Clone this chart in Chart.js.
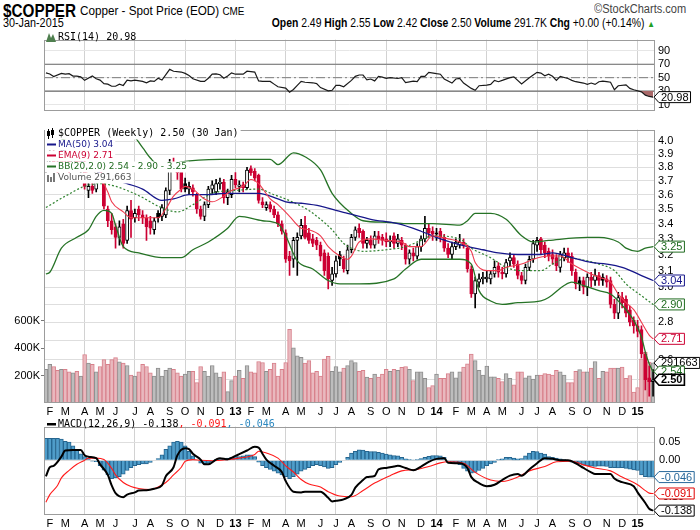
<!DOCTYPE html>
<html>
<head>
<meta charset="utf-8">
<title>$COPPER weekly</title>
<script src="https://cdn.jsdelivr.net/npm/chart.js@4.4.1/dist/chart.umd.min.js"></script>
<style>
  body { margin: 0; background: #fff; }
  #page { position: relative; width: 700px; height: 530px; overflow: hidden; color: #000;
          font-family: "Liberation Sans Narrow", "Liberation Sans", Arial, sans-serif; }
  .abs { position: absolute; white-space: nowrap; line-height: 1; }
  .left { transform-origin: left center; }
  .right { transform-origin: right center; }
  canvas { position: absolute; left: 0; }
</style>
</head>
<body>
<div id="page">
  <div class="abs left" style="left:3px;top:2px;font-size:18px;font-weight:bold;transform:scaleX(0.85);">$COPPER</div>
  <div class="abs left" style="left:80px;top:4px;font-size:13px;transform:scaleX(0.9);">Copper - Spot Price (EOD) <span style="font-size:11px">CME</span></div>
  <div class="abs right" style="right:14px;top:3px;font-size:12px;color:#444;transform:scaleX(0.92);">&copy;StockCharts.com</div>
  <div class="abs left" style="left:3px;top:17px;font-size:12px;transform:scaleX(0.9);">30-Jan-2015</div>
  <div class="abs right" style="right:45px;top:17px;font-size:12px;transform:scaleX(0.865);"><b>Open</b> 2.49 <b>High</b> 2.55 <b>Low</b> 2.42 <b>Close</b> 2.50 <b>Volume</b> 291.7K <b>Chg</b> +0.00 (+0.14%) <span style="color:#22a022;font-size:9px">&#9650;</span></div>
  <canvas id="rsiCanvas" width="700" height="90" style="top:30px"></canvas>
  <canvas id="priceCanvas" width="700" height="298" style="top:120px"></canvas>
  <canvas id="macdCanvas" width="700" height="114" style="top:416px"></canvas>
</div>
<script>
// weekly bars, week 0 = 27-Jan-2012 ... week 157 = 30-Jan-2015
const monthTicks = [1,5,10,14,18,23,27,32,36,40,45,49,53,57,62,66,71,75,79,84,88,92,97,101,106,110,114,118,123,127,131,136,140,145,149,153];
const monthLabels = ['F','M','A','M','J','J','A','S','O','N','D','13','F','M','A','M','J','J','A','S','O','N','D','14','F','M','A','M','J','J','A','S','O','N','D','15'];
const quarterTicks = [10,23,36,49,62,75,88,101,114,127,140,153];
const yearTicks = [49,101,153];

const opens = [3.80,3.86,3.89,3.84,3.81,3.90,3.87,3.82,3.88,3.83,
  3.84,3.63,3.66,3.64,3.78,3.73,3.50,3.42,3.38,3.31,
  3.40,3.29,3.49,3.44,3.50,3.46,3.44,3.42,3.36,3.47,
  3.45,3.46,3.63,3.84,3.80,3.77,3.68,3.64,3.65,3.60,
  3.50,3.45,3.53,3.64,3.62,3.68,3.69,3.58,3.60,3.71,
  3.66,3.67,3.65,3.79,3.77,3.74,3.55,3.51,3.53,3.50,
  3.46,3.40,3.34,3.19,3.17,3.29,3.32,3.39,3.34,3.30,
  3.29,3.26,3.21,3.19,3.04,3.08,3.20,3.17,3.10,3.23,
  3.31,3.37,3.35,3.27,3.29,3.26,3.32,3.31,3.30,3.28,
  3.32,3.27,3.29,3.26,3.17,3.21,3.19,3.25,3.30,3.37,
  3.35,3.34,3.35,3.31,3.24,3.20,3.25,3.26,3.28,3.24,
  3.11,2.96,3.03,3.05,3.05,3.05,3.08,3.13,3.09,3.08,
  3.16,3.18,3.14,3.07,3.04,3.12,3.17,3.26,3.30,3.26,
  3.22,3.20,3.18,3.12,3.18,3.21,3.19,3.09,3.04,3.04,
  3.00,3.06,3.04,3.07,3.06,3.05,3.04,2.90,2.85,2.94,
  2.93,2.87,2.81,2.78,2.76,2.63,2.51,2.49];
const highs = [3.90,3.93,3.95,3.88,3.94,3.97,3.90,3.91,3.90,3.88,
  3.86,3.69,3.69,3.80,3.82,3.74,3.52,3.47,3.40,3.42,
  3.43,3.52,3.56,3.50,3.52,3.49,3.46,3.45,3.44,3.49,
  3.53,3.65,3.86,3.87,3.83,3.78,3.72,3.69,3.67,3.61,
  3.52,3.55,3.66,3.70,3.71,3.72,3.71,3.64,3.74,3.76,
  3.70,3.69,3.80,3.81,3.79,3.75,3.58,3.55,3.55,3.52,
  3.48,3.42,3.36,3.22,3.31,3.34,3.43,3.45,3.37,3.33,
  3.31,3.28,3.23,3.21,3.12,3.19,3.22,3.19,3.26,3.33,
  3.38,3.40,3.36,3.31,3.32,3.35,3.35,3.33,3.34,3.32,
  3.34,3.33,3.31,3.27,3.23,3.24,3.27,3.32,3.45,3.40,
  3.38,3.37,3.37,3.33,3.27,3.28,3.30,3.33,3.30,3.26,
  3.13,3.06,3.08,3.09,3.10,3.10,3.16,3.15,3.12,3.17,
  3.21,3.20,3.16,3.09,3.14,3.19,3.29,3.31,3.31,3.28,
  3.24,3.23,3.20,3.22,3.24,3.24,3.21,3.11,3.06,3.06,
  3.08,3.09,3.11,3.09,3.08,3.07,3.06,2.93,2.97,2.97,
  2.95,2.89,2.83,2.81,2.78,2.64,2.57,2.55];
const lows = [3.76,3.78,3.80,3.75,3.79,3.83,3.75,3.80,3.80,3.76,
  3.64,3.58,3.61,3.62,3.70,3.50,3.38,3.33,3.24,3.26,
  3.24,3.27,3.31,3.41,3.42,3.40,3.29,3.33,3.33,3.41,
  3.42,3.44,3.60,3.77,3.71,3.62,3.62,3.60,3.59,3.47,
  3.43,3.42,3.51,3.61,3.60,3.64,3.54,3.53,3.58,3.65,
  3.62,3.62,3.64,3.74,3.70,3.54,3.51,3.49,3.48,3.44,
  3.38,3.33,3.15,3.07,3.12,3.07,3.30,3.30,3.27,3.25,
  3.23,3.16,3.07,2.99,3.01,3.06,3.13,3.09,3.08,3.21,
  3.29,3.31,3.24,3.24,3.24,3.24,3.27,3.26,3.25,3.25,
  3.24,3.25,3.23,3.14,3.14,3.16,3.17,3.22,3.28,3.31,
  3.29,3.29,3.28,3.22,3.18,3.17,3.23,3.24,3.24,3.09,
  2.94,2.88,3.00,3.02,3.03,3.02,3.06,3.06,3.05,3.06,
  3.13,3.12,3.05,3.02,3.02,3.10,3.15,3.22,3.20,3.18,
  3.16,3.14,3.10,3.09,3.16,3.15,3.07,2.99,2.98,2.96,
  2.95,3.00,3.01,3.01,3.01,3.00,2.88,2.82,2.82,2.88,
  2.83,2.78,2.74,2.72,2.61,2.45,2.42,2.42];
const closes = [3.86,3.89,3.84,3.81,3.90,3.87,3.82,3.88,3.83,3.84,
  3.66,3.66,3.63,3.78,3.73,3.52,3.42,3.36,3.31,3.38,
  3.27,3.49,3.43,3.47,3.46,3.44,3.38,3.37,3.42,3.44,
  3.51,3.63,3.84,3.80,3.76,3.64,3.64,3.66,3.62,3.50,
  3.45,3.53,3.64,3.67,3.68,3.69,3.58,3.62,3.71,3.67,
  3.67,3.65,3.78,3.76,3.72,3.56,3.53,3.53,3.50,3.46,
  3.40,3.35,3.17,3.16,3.29,3.31,3.39,3.31,3.29,3.27,
  3.26,3.19,3.10,3.05,3.08,3.16,3.17,3.11,3.23,3.31,
  3.36,3.34,3.27,3.29,3.26,3.32,3.30,3.29,3.28,3.29,
  3.27,3.30,3.26,3.17,3.21,3.19,3.25,3.30,3.37,3.34,
  3.33,3.33,3.31,3.24,3.20,3.25,3.28,3.28,3.26,3.11,
  2.96,3.04,3.05,3.06,3.06,3.08,3.12,3.09,3.08,3.15,
  3.18,3.14,3.07,3.04,3.12,3.17,3.27,3.29,3.23,3.21,
  3.19,3.17,3.13,3.20,3.21,3.18,3.10,3.02,3.02,3.00,
  3.06,3.04,3.07,3.04,3.04,3.03,2.90,2.85,2.94,2.91,
  2.85,2.80,2.78,2.75,2.63,2.50,2.49,2.50];
// thousands of contracts
const volumes = [245,281,266,238,245,245,226,219,231,196,
  353,290,282,226,266,316,281,316,330,299,
  290,273,203,196,226,281,266,219,196,254,
  196,238,254,245,219,196,210,231,231,148,
  266,231,196,273,219,189,226,83,163,196,
  238,179,273,226,219,302,295,231,245,290,
  196,245,295,537,401,344,332,290,309,219,
  231,196,320,339,231,266,226,254,273,309,
  295,231,238,189,179,210,189,210,245,231,
  245,238,259,266,245,163,226,226,179,113,
  127,210,179,179,214,226,184,226,262,285,
  356,309,238,203,269,191,191,179,156,214,
  179,132,226,226,184,198,175,203,203,214,
  210,203,238,226,203,148,148,231,243,226,
  226,255,302,179,231,226,255,255,255,262,
  179,200,80,113,321,368,297,291.663];

const maWeeks = [0,5,10,15,21,25,30,33,37,42,46,50,55,60,62,66,71,75,78,84,91,97,102,106,113,117,122,128,131,136,141,145,149,154,157];
const maValues = [3.98,3.92,3.83,3.74,3.68,3.64,3.56,3.57,3.60,3.60,3.61,3.61,3.61,3.57,3.55,3.54,3.52,3.49,3.47,3.43,3.40,3.35,3.30,3.27,3.23,3.21,3.20,3.20,3.21,3.18,3.15,3.14,3.12,3.07,3.04];
const emaWeeks = [0,3,6,9,11,13,14,16,17,20,22,26,29,31,33,35,36,38,41,43,46,48,51,53,55,58,60,63,66,68,71,73,76,78,79,81,84,88,92,94,97,100,104,107,110,111,114,117,119,123,126,130,133,136,140,143,146,148,150,152,154,156,157];
const emaValues = [3.80,3.83,3.86,3.84,3.74,3.70,3.71,3.62,3.55,3.48,3.44,3.44,3.44,3.50,3.59,3.64,3.66,3.64,3.57,3.55,3.59,3.63,3.66,3.71,3.68,3.57,3.53,3.45,3.37,3.36,3.32,3.25,3.19,3.17,3.19,3.28,3.30,3.29,3.28,3.25,3.25,3.32,3.30,3.28,3.22,3.15,3.10,3.10,3.12,3.14,3.17,3.19,3.19,3.14,3.09,3.06,3.03,2.96,2.91,2.87,2.80,2.73,2.71];
const bbUpperWeeks = [0,5,10,13,22,25,27,30,35,45,58,60,64,67,71,74,79,82,88,93,100,107,109,111,115,119,123,126,130,140,143,148,150,153,155,157];
const bbUpperValues = [3.94,4.02,4.05,4.05,4.05,3.95,3.87,3.80,3.84,3.86,3.86,3.82,3.91,3.88,3.78,3.61,3.47,3.42,3.41,3.40,3.40,3.39,3.42,3.47,3.47,3.43,3.32,3.28,3.29,3.31,3.31,3.28,3.24,3.22,3.24,3.25];
const bbMidWeeks = [0,5,10,14,18,21,25,29,34,38,43,49,55,59,62,66,68,71,74,77,79,82,88,93,97,100,107,110,115,119,123,128,131,135,138,143,147,150,154,157];
const bbMidValues = [3.51,3.59,3.66,3.68,3.66,3.63,3.58,3.52,3.48,3.53,3.61,3.63,3.64,3.60,3.57,3.52,3.49,3.43,3.36,3.27,3.24,3.22,3.23,3.25,3.29,3.32,3.30,3.24,3.18,3.12,3.10,3.10,3.14,3.18,3.17,3.14,3.10,3.02,2.95,2.90];
const bbLowerWeeks = [0,1,4,8,11,13,15,17,18,20,24,30,35,38,42,47,50,56,60,62,65,69,73,76,81,90,93,97,101,107,110,112,115,118,122,128,130,134,136,139,143,146,150,152,154,155,156,157];
const bbLowerValues = [3.08,3.09,3.24,3.31,3.36,3.45,3.49,3.47,3.39,3.25,3.21,3.18,3.18,3.23,3.28,3.37,3.45,3.42,3.40,3.32,3.16,3.11,3.04,3.02,3.02,3.05,3.11,3.17,3.17,3.17,3.14,2.98,2.92,2.90,2.91,2.92,2.94,3.01,3.03,3.01,2.98,2.96,2.87,2.81,2.72,2.64,2.58,2.54];

const rsiWeeks = [0,1,2,4,5,6,7,8,9,10,12,13,14,15,16,17,18,19,20,21,22,23,25,26,27,28,29,30,32,33,35,36,37,38,40,41,42,43,44,45,46,47,48,49,51,52,54,55,56,58,59,60,62,63,64,65,66,67,69,70,71,73,74,75,76,77,79,80,81,82,83,84,85,86,87,88,89,91,92,93,95,96,97,98,99,101,102,103,105,106,107,108,110,111,112,114,115,116,117,118,120,121,123,125,126,127,128,129,130,131,132,133,135,136,137,139,140,141,142,143,144,145,146,147,148,150,151,152,154,155,156,157];
const rsiValues = [57.2,55.6,51.6,56.4,55.2,56,52.4,52.4,51.2,46,52.4,48.4,46.4,41.2,40.4,37.2,37.2,40.4,38.4,46.4,45.2,46.4,44.4,42.4,45.2,44.4,49.2,46.4,62.4,59.6,58.4,56.4,53.2,48.4,44.4,44.4,49.2,55.2,55.6,54.4,49.2,52.4,57.2,55.2,55.2,59.6,58.4,45.2,44.4,44.4,40.4,36.4,34.4,28.4,32.4,38.4,44.4,43.2,42.4,41.2,35.2,30.4,31.2,38.4,38.4,36.4,46,52,54,54,46.8,48,45.2,52,50.8,48.8,50,48.8,50,42.8,44.8,44,52,52,58,56,55.2,48,42,48,48.8,42,34,31.2,38,38.8,40,46,44,46,50,51.2,40.8,50,54,58,56.8,52.8,55.2,52,46,52,48.8,46,44,42,40,42,40,44,44.8,44,43.2,32,38,39.2,34,32,28.8,24,22,20.98];
const rsiLevels = [70, 50, 30];

const macdWeeks = [0,1,2,4,5,7,9,10,11,13,14,16,17,18,20,21,23,24,26,28,30,31,33,34,36,37,38,40,41,42,44,45,47,49,50,52,54,55,56,57,59,61,62,64,66,67,71,73,74,75,77,79,80,82,83,85,86,88,90,91,93,95,97,99,101,103,104,107,109,110,112,114,116,118,120,122,123,125,127,129,131,133,135,137,139,141,142,146,147,149,152,153,155,156,157];
const macdValues = [-0.044,-0.019,-0.015,0.01,0.027,0.028,0.028,0.014,0.01,0.006,-0.011,-0.04,-0.069,-0.09,-0.101,-0.094,-0.088,-0.083,-0.082,-0.078,-0.069,-0.044,-0.019,0.014,0.033,0.031,0.018,0.002,-0.011,-0.011,0.002,0.006,0.003,0.012,0.017,0.027,0.037,0.035,0.018,0.002,-0.015,-0.032,-0.057,-0.086,-0.088,-0.086,-0.086,-0.103,-0.113,-0.111,-0.107,-0.095,-0.075,-0.054,-0.046,-0.043,-0.025,-0.021,-0.017,-0.015,-0.021,-0.027,-0.017,-0.004,0.004,0.006,-0.007,-0.008,-0.021,-0.046,-0.0625,-0.071,-0.067,-0.054,-0.042,-0.0375,-0.042,-0.025,-0.008,0.006,0.004,0,0,-0.008,-0.021,-0.033,-0.0375,-0.0375,-0.05,-0.06,-0.071,-0.088,-0.117,-0.133,-0.138];
const signalWeeks = [0,1,3,4,6,8,10,11,13,15,17,18,20,22,24,27,29,31,33,35,36,38,40,43,47,50,54,55,57,60,62,64,66,68,71,73,76,79,82,85,89,92,96,99,102,104,108,111,115,118,122,125,129,132,136,139,142,146,149,153,155,156,157];
const signalValues = [-0.115,-0.094,-0.069,-0.048,-0.0275,-0.011,0,0.006,0.006,0.002,-0.022,-0.04,-0.061,-0.072,-0.0775,-0.08,-0.073,-0.061,-0.04,-0.019,-0.0025,0.002,0,-0.001,0.002,0.006,0.016,0.025,0.02,0.006,-0.015,-0.032,-0.0525,-0.065,-0.073,-0.086,-0.098,-0.1,-0.083,-0.0625,-0.042,-0.029,-0.025,-0.017,-0.007,-0.004,-0.008,-0.033,-0.054,-0.058,-0.046,-0.029,-0.017,-0.004,-0.0025,-0.0125,-0.021,-0.029,-0.046,-0.067,-0.083,-0.09,-0.091];
const histValues = [0.06,0.06,0.06,0.06,0.058,0.052,0.05,0.04,0.03,0.018,
  0.01,0.005,-0.002,-0.004,-0.015,-0.027,-0.04,-0.05,-0.048,-0.045,
  -0.038,-0.028,-0.02,-0.015,-0.012,-0.01,-0.01,-0.006,0.0,0.005,
  0.015,0.03,0.04,0.05,0.052,0.05,0.04,0.025,0.012,0.0,
  -0.008,-0.01,-0.008,-0.004,0.002,0.003,0.004,0.006,0.008,0.01,
  0.01,0.012,0.015,0.015,0.01,-0.005,-0.015,-0.02,-0.025,-0.03,
  -0.035,-0.04,-0.045,-0.05,-0.045,-0.038,-0.03,-0.025,-0.02,-0.015,
  -0.012,-0.015,-0.018,-0.022,-0.02,-0.012,-0.006,0.0,0.008,0.02,
  0.025,0.029,0.028,0.025,0.024,0.024,0.022,0.02,0.017,0.015,
  0.013,0.012,0.008,0.004,0.002,0.001,0.002,0.005,0.008,0.011,
  0.013,0.013,0.012,0.008,-0.002,-0.005,-0.008,-0.012,-0.022,-0.03,
  -0.035,-0.033,-0.028,-0.022,-0.015,-0.01,-0.006,0.002,0.004,0.008,
  0.008,0.006,0.004,0.005,0.012,0.02,0.025,0.024,0.02,0.017,
  0.01,0.008,0.006,0.004,0.002,-0.002,-0.005,-0.008,-0.01,-0.013,
  -0.015,-0.016,-0.017,-0.016,-0.016,-0.017,-0.02,-0.02,-0.021,-0.02,
  -0.022,-0.024,-0.026,-0.028,-0.04,-0.045,-0.046,-0.046];

const priceTicks = [2.5,2.6,2.7,2.8,2.9,3.0,3.1,3.2,3.3,3.4,3.5,3.6,3.7,3.8,3.9,4.0];
const rsiTicks = [10,20,30,40,50,60,70,80,90,100];
const macdTicks = [0.05,0,-0.05,-0.10];

const RED = '#cc0033';
const MONO = '10px "DejaVu Sans Mono", monospace';
const SANS = '9px "DejaVu Sans", sans-serif';

Chart.defaults.font.family = '"Liberation Sans", Arial, sans-serif';
Chart.defaults.font.size = 11;
Chart.defaults.color = '#000';

const weekIndex = closes.map((c, i) => i);
const candleColor = closes.map((c, i) => c >= (i ? closes[i - 1] : opens[i]) ? '#000000' : RED);
const candleFill = closes.map((c, i) => c < opens[i] ? candleColor[i] : '#ffffff');
const volFill = candleColor.map(c => c === RED ? '#e9b8be' : '#bdbdbd');
const volLine = candleColor.map(c => c === RED ? '#d8808b' : '#8e8e8e');

function pts(ws, vs) {
    return ws.map((w, k) => ({x: w, y: vs[k]}));
}

function lineSet(label, ws, vs, color, width, extra) {
    return Object.assign({
        type: 'line', label: label, data: pts(ws, vs), borderColor: color, borderWidth: width,
        pointRadius: 0, cubicInterpolationMode: 'monotone', fill: false
    }, extra || {});
}

function xAxis(showLabels) {
    return {
        type: 'linear', min: -0.5, max: 157.5, offset: false,
        afterBuildTicks: s => { s.ticks = monthTicks.map(v => ({value: v})); },
        afterFit: s => { s.height = showLabels ? 15 : 0; },
        ticks: {
            display: showLabels, autoSkip: false, maxRotation: 0, padding: 2, color: '#000',
            font: c => ({size: 11, weight: c.tick && yearTicks.includes(c.tick.value) ? 'bold' : 'normal'}),
            callback: v => monthLabels[monthTicks.indexOf(v)]
        },
        grid: {
            offset: false, drawTicks: false,
            color: c => c.tick && quarterTicks.includes(c.tick.value) ? '#d2d2d2' : 'rgba(0,0,0,0)'
        },
        border: {display: false}
    };
}

function frame(chart) {
    const {ctx, chartArea: a} = chart;
    ctx.save();
    ctx.strokeStyle = '#9c9c9c';
    ctx.lineWidth = 1;
    ctx.strokeRect(Math.round(a.left) + 0.5, Math.round(a.top) + 0.5,
        Math.round(a.right - a.left) - 1, Math.round(a.bottom - a.top) - 1);
    ctx.restore();
}

function legendLine(ctx, x, y, parts, font, bgLeft) {
    ctx.save();
    ctx.font = font;
    const w = parts.reduce((s, p) => s + ctx.measureText(p[0]).width, 0);
    if (bgLeft !== undefined) {
        ctx.fillStyle = '#ffffff';
        ctx.fillRect(bgLeft, y - 5, x - bgLeft + w + 2, 11);
    }
    ctx.textBaseline = 'middle';
    let cx = x;
    parts.forEach(p => {
        ctx.fillStyle = p[1];
        ctx.fillText(p[0], cx, y);
        cx += ctx.measureText(p[0]).width;
    });
    ctx.restore();
}

function tag(ctx, x, y, text, color, bold) {
    ctx.save();
    ctx.font = (bold ? 'bold ' : '') + '11px "Liberation Sans", Arial, sans-serif';
    const w = ctx.measureText(text).width + 4;
    const h = 11;
    ctx.beginPath();
    ctx.moveTo(x, y);
    ctx.lineTo(x + 5, y - h / 2);
    ctx.lineTo(x + 5 + w, y - h / 2);
    ctx.lineTo(x + 5 + w, y + h / 2);
    ctx.lineTo(x + 5, y + h / 2);
    ctx.closePath();
    ctx.fillStyle = '#ffffff';
    ctx.fill();
    ctx.lineWidth = bold ? 1.6 : 1;
    ctx.strokeStyle = color;
    ctx.stroke();
    ctx.fillStyle = color;
    ctx.textBaseline = 'middle';
    ctx.fillText(text, x + 7, y + 0.5);
    ctx.restore();
}

const last = a => a[a.length - 1];

// ---------- RSI panel ----------
new Chart(document.getElementById('rsiCanvas'), {
    type: 'line',
    data: {
        datasets: [
            {label: 'RSI(14)', data: pts(rsiWeeks, rsiValues), borderColor: '#1a1a1a', borderWidth: 1.2,
             pointRadius: 0, tension: 0, order: 1,
             fill: {target: {value: 30}, above: 'rgba(0,0,0,0)', below: '#a86868'}},
            {label: '70', data: [{x: -0.5, y: rsiLevels[0]}, {x: 157.5, y: rsiLevels[0]}], borderColor: '#6a6a6a', borderWidth: 1.2, pointRadius: 0, order: 2},
            {label: '50', data: [{x: -0.5, y: rsiLevels[1]}, {x: 157.5, y: rsiLevels[1]}], borderColor: '#7a7a7a', borderWidth: 1, borderDash: [9, 3, 2, 3], pointRadius: 0, order: 2},
            {label: '30', data: [{x: -0.5, y: rsiLevels[2]}, {x: 157.5, y: rsiLevels[2]}], borderColor: '#6a6a6a', borderWidth: 1.2, pointRadius: 0, order: 2}
        ]
    },
    options: {
        responsive: false, animation: false,
        layout: {padding: {left: 44, top: 1, bottom: 1, right: 0}},
        plugins: {legend: {display: false}, tooltip: {enabled: false}},
        scales: {
            x: xAxis(false),
            y: {
                position: 'right', min: 1.2, max: 106.8,
                afterBuildTicks: s => { s.ticks = rsiTicks.map(v => ({value: v})); },
                afterFit: s => { s.width = 45; },
                ticks: {padding: 3, callback: v => (v % 20 === 10 ? String(v) : '')},
                grid: {color: '#e6e6e6', drawTicks: false},
                border: {display: false}
            }
        }
    },
    plugins: [{
        id: 'rsiText',
        afterDraw(chart) {
            const ctx = chart.ctx;
            frame(chart);
            ctx.save();
            ctx.fillStyle = '#4f7f4f';
            ctx.beginPath();
            ctx.moveTo(46, 12); ctx.lineTo(49, 3); ctx.lineTo(51, 8); ctx.lineTo(53, 4); ctx.lineTo(56, 12);
            ctx.closePath();
            ctx.fill();
            ctx.restore();
            legendLine(ctx, 58, 7.5, [['RSI(14) ' + last(rsiValues).toFixed(2), '#000']], MONO);
            tag(ctx, chart.chartArea.right - 1, chart.scales.y.getPixelForValue(last(rsiValues)), last(rsiValues).toFixed(2), '#000');
        }
    }]
});

// ---------- price + volume panel ----------
new Chart(document.getElementById('priceCanvas'), {
    type: 'bar',
    data: {
        datasets: [
            lineSet('EMA(9)', emaWeeks, emaValues, '#ee3a4e', 1.1, {order: 1}),
            lineSet('MA(50)', maWeeks, maValues, '#16168a', 1.3, {order: 1}),
            lineSet('BB upper', bbUpperWeeks, bbUpperValues, '#267326', 1.3, {order: 2}),
            lineSet('BB mid', bbMidWeeks, bbMidValues, '#2f822f', 1.2, {order: 2, borderDash: [2, 2]}),
            lineSet('BB lower', bbLowerWeeks, bbLowerValues, '#267326', 1.3, {order: 2}),
            {type: 'bar', label: 'body', order: 3, grouped: false, barThickness: 3.2, minBarLength: 1,
             data: weekIndex.map(i => ({x: i, y: [Math.min(opens[i], closes[i]), Math.max(opens[i], closes[i])]})),
             backgroundColor: candleFill, borderColor: candleColor, borderWidth: 1, borderSkipped: false},
            {type: 'bar', label: 'wick', order: 4, grouped: false, barThickness: 1,
             data: weekIndex.map(i => ({x: i, y: [lows[i], highs[i]]})),
             backgroundColor: candleColor},
            {type: 'bar', label: 'Volume', yAxisID: 'yv', order: 9, grouped: false, barThickness: 3.9,
             data: weekIndex.map(i => ({x: i, y: volumes[i] * 1000})),
             backgroundColor: volFill, borderColor: volLine, borderWidth: 1}
        ]
    },
    options: {
        responsive: false, animation: false,
        layout: {padding: {top: 1, left: 0, right: 0, bottom: 0}},
        plugins: {legend: {display: false}, tooltip: {enabled: false}},
        scales: {
            x: xAxis(true),
            y: {
                type: 'logarithmic', position: 'right', min: 2.388, max: 4.093,
                afterBuildTicks: s => { s.ticks = priceTicks.map(v => ({value: v})); },
                afterFit: s => { s.width = 45; },
                ticks: {autoSkip: false, padding: 3, callback: v => Number(v).toFixed(1)},
                grid: {color: '#dedede', drawTicks: false},
                border: {display: false}
            },
            yv: {
                type: 'linear', position: 'left', min: 0, max: 1990000,
                afterBuildTicks: s => { s.ticks = [200000, 400000, 600000].map(v => ({value: v})); },
                afterFit: s => { s.width = 44; },
                ticks: {padding: 1, callback: v => (v / 1000) + 'K'},
                grid: {drawOnChartArea: false, drawTicks: true, tickLength: 3, color: '#777'},
                border: {display: false}
            }
        }
    },
    plugins: [{
        id: 'priceText',
        afterDraw(chart) {
            const ctx = chart.ctx;
            const x0 = chart.chartArea.right - 1;
            const y = chart.scales.y, yv = chart.scales.yv;
            frame(chart);
            legendLine(ctx, 58, 13.5, [['$COPPER (Weekly) ' + last(closes).toFixed(2) + ' (30 Jan)', '#000']], MONO, 45);
            legendLine(ctx, 58, 24.5, [['MA(50) ' + last(maValues).toFixed(2), '#16168a']], SANS, 45);
            legendLine(ctx, 58, 35.5, [['EMA(9) ' + last(emaValues).toFixed(2), RED]], SANS, 45);
            legendLine(ctx, 58, 46.5, [['BB(20,2.0) ' + last(bbLowerValues).toFixed(2) + ' - ' + last(bbMidValues).toFixed(2) + ' - ' + last(bbUpperValues).toFixed(2), '#1f6b1f']], SANS, 45);
            legendLine(ctx, 58, 57.5, [['Volume ' + Math.round(last(volumes) * 1000).toLocaleString('en-US'), '#555']], SANS, 45);
            ctx.save();
            ctx.fillStyle = '#000';
            ctx.fillRect(48, 9, 1, 10); ctx.fillRect(47, 11, 3, 5);
            ctx.fillRect(52, 8, 1, 10); ctx.strokeStyle = '#000'; ctx.lineWidth = 1; ctx.strokeRect(51.5, 10.5, 2, 4);
            ctx.fillStyle = '#16168a'; ctx.fillRect(47, 23.5, 9, 2);
            ctx.fillStyle = RED; ctx.fillRect(47, 34.5, 9, 2);
            ctx.fillStyle = '#267326'; ctx.fillRect(47, 45.5, 9, 2);
            ctx.fillStyle = '#777'; ctx.fillRect(47, 55, 2, 7); ctx.fillRect(50, 57, 2, 5); ctx.fillRect(53, 53, 2, 9);
            ctx.restore();
            tag(ctx, x0, y.getPixelForValue(last(bbUpperValues)), last(bbUpperValues).toFixed(2), '#1f6b1f');
            tag(ctx, x0, y.getPixelForValue(last(maValues)), last(maValues).toFixed(2), '#16168a');
            tag(ctx, x0, y.getPixelForValue(last(bbMidValues)), last(bbMidValues).toFixed(2), '#1f6b1f');
            tag(ctx, x0, y.getPixelForValue(last(emaValues)), last(emaValues).toFixed(2), RED);
            tag(ctx, x0, yv.getPixelForValue(last(volumes) * 1000), String(Math.round(last(volumes) * 1000)), '#000');
            tag(ctx, x0, y.getPixelForValue(last(bbLowerValues)), last(bbLowerValues).toFixed(2), '#1f6b1f');
            tag(ctx, x0, y.getPixelForValue(last(closes)), last(closes).toFixed(2), '#000', true);
        }
    }]
});

// ---------- MACD panel ----------
new Chart(document.getElementById('macdCanvas'), {
    type: 'bar',
    data: {
        datasets: [
            lineSet('MACD', macdWeeks, macdValues, '#000000', 2, {order: 1}),
            lineSet('Signal', signalWeeks, signalValues, '#ff1a1a', 1.1, {order: 2}),
            {type: 'bar', label: 'Histogram', order: 3, grouped: false, barThickness: 3.9,
             data: weekIndex.map(i => ({x: i, y: histValues[i]})),
             backgroundColor: '#4f9dca', borderColor: '#25658f', borderWidth: 1}
        ]
    },
    options: {
        responsive: false, animation: false,
        layout: {padding: {left: 44, top: 1, right: 0, bottom: 0}},
        plugins: {legend: {display: false}, tooltip: {enabled: false}},
        scales: {
            x: xAxis(true),
            y: {
                position: 'right', min: -0.15, max: 0.0925,
                afterBuildTicks: s => { s.ticks = macdTicks.map(v => ({value: v})); },
                afterFit: s => { s.width = 45; },
                ticks: {padding: 4, callback: v => Number(v).toFixed(2)},
                grid: {color: '#dedede', drawTicks: false},
                border: {display: false}
            }
        }
    },
    plugins: [{
        id: 'macdText',
        afterDraw(chart) {
            const ctx = chart.ctx;
            const x0 = chart.chartArea.right - 1;
            const y = chart.scales.y;
            frame(chart);
            ctx.save();
            ctx.fillStyle = '#000';
            ctx.fillRect(47, 7, 9, 2.5);
            ctx.restore();
            legendLine(ctx, 58, 8.5, [
                ['MACD(12,26,9) ' + last(macdValues).toFixed(3), '#000'],
                [', ' + last(signalValues).toFixed(3), '#ff1a1a'],
                [', ' + last(histValues).toFixed(3), '#2b88c0']
            ], MONO);
            tag(ctx, x0, y.getPixelForValue(last(histValues)), last(histValues).toFixed(3), '#26679a');
            tag(ctx, x0, y.getPixelForValue(last(signalValues)), last(signalValues).toFixed(3), '#e00000');
            tag(ctx, x0, y.getPixelForValue(last(macdValues)), last(macdValues).toFixed(3), '#000');
        }
    }]
});
</script>
</body>
</html>
